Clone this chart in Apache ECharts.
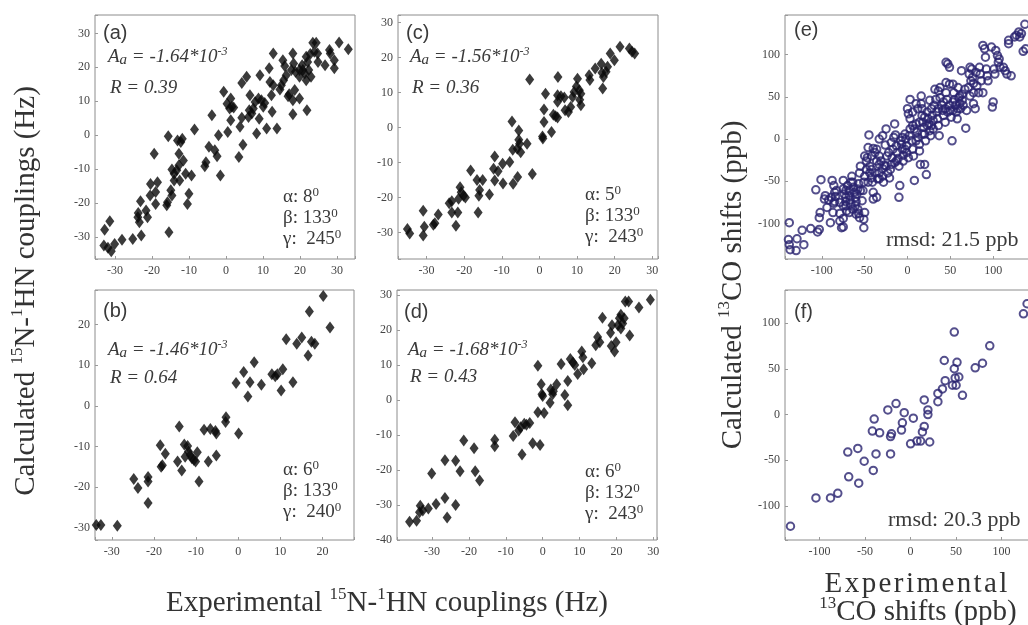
<!DOCTYPE html>
<html>
<head>
<meta charset="utf-8">
<script src="https://cdn.jsdelivr.net/npm/echarts@6/dist/echarts.min.js"></script>
<style>
html,body{margin:0;padding:0;background:#fff;}
#chart{width:1028px;height:625px;}
</style>
</head>
<body>
<div id="chart"></div>
<script>
// ---------- data ----------
const panelA = [[-32.8,-27.8],[-31.4,-25.3],[-33,-32.4],[-31.9,-33.1],[-31,-34.1],[-30.1,-32],[-28.1,-30.7],[-25.2,-30.5],[-22.9,-29.5],[-23.7,-22.9],[-23.8,-24.1],[-23.4,-25.6],[-23.1,-19.4],[-21.6,-22.1],[-21.2,-24.1],[-20.4,-14.3],[-20.5,-17.7],[-19.4,-5.4],[-19,-16.7],[-19,-20.2],[-18.5,-13.8],[-15.8,-19.7],[-16,-20.6],[-15.6,-0.3],[-15.4,-28.5],[-14.9,-16.2],[-14.6,-17.7],[-14.6,-10.1],[-14,-11.3],[-14,-13.3],[-13.3,-10.3],[-13.1,-1.5],[-12.7,-5.4],[-12.7,-8.8],[-12.5,-13.3],[-12.2,-2],[-11.8,-1],[-11.5,-7.4],[-10.9,-11.3],[-10.4,-20.2],[-10,-17.2],[-9.3,-11.8],[-8.5,1.7],[-5.7,-9.1],[-5.4,-7.9],[-4.6,-3.4],[-3.8,5.9],[-3,-4.4],[-2.4,-6.2],[-2,0],[-1.5,-11.8],[-0.6,12.8],[0.3,9.3],[0.5,1],[1,7.9],[1.3,10.8],[1.6,8.4],[1.3,4.4],[2.1,8.2],[3.5,-6.4],[3.8,2.5],[4.3,5.2],[4.3,15.4],[4.6,-2.8],[5.6,17.2],[6.1,5.4],[6.3,7.4],[6.5,11.8],[7,6.4],[7.4,7.9],[7.9,9.8],[8.3,0.5],[8.8,10.8],[9,4.9],[9.2,17.7],[9.6,10.3],[10.1,8.4],[10.5,9.5],[11,2],[11.7,19.7],[11.9,15.7],[12.3,11.8],[12.5,6.9],[12.8,24.1],[12.8,14.7],[13.8,2],[14.6,13.5],[15,14.7],[15.4,22.1],[15.6,16.2],[15.9,20.4],[16.3,17.7],[16.8,11.5],[17.1,12.1],[17.7,19.2],[18.1,6.2],[18.1,24.1],[18.3,21.1],[18.6,13.3],[18.8,18.7],[19.9,17.2],[20.6,20.6],[21.3,18.2],[21.7,23.1],[21.9,7.4],[22.1,21.6],[22.4,19.2],[22.8,23.9],[23,17.2],[23.5,27.2],[23.9,24.6],[24.4,27.2],[24.8,24.1],[24.9,21.6],[26.8,20.6],[28,25.1],[28.2,24.1],[29.3,22.1],[29.3,19.7],[30.6,27.3],[33.1,25.3],[19.9,10.8],[18.1,10.3],[21.7,16.2],[20.8,19.2],[19.9,19.2]];

const panelC = [[-35.1,-29],[-34.5,-30.3],[-30.9,-23.8],[-30.6,-28.4],[-30.9,-30.9],[-28.2,-27.8],[-27.8,-27.4],[-26.9,-24.9],[-24,-21.7],[-23.3,-21.1],[-23.3,-24.3],[-22.2,-28.1],[-21.7,-24.3],[-21.5,-20.4],[-21.1,-17.1],[-20.8,-18.5],[-20.2,-19.5],[-19.7,-20],[-18.3,-12.3],[-16.6,-15],[-16.3,-24.3],[-15.9,-17.9],[-16.1,-19.5],[-15.1,-15],[-13.3,-19.2],[-12.2,-11.8],[-11.9,-8.3],[-11.9,-15.2],[-11,-12.5],[-9.8,-10.4],[-9.7,-16],[-7.9,-9.9],[-7.3,1.7],[-7.1,-6.4],[-7,-16.1],[-5.9,-6.1],[-5.8,-14.2],[-5.5,-0.9],[-5.5,-3.5],[-5.3,-4.7],[-5,-7.1],[-3.3,-4.7],[-2.6,13.7],[-1.9,-13.3],[0.8,-2.6],[0.9,-3.2],[1.2,1.5],[1.2,5.1],[1.6,9.6],[3.2,-1.3],[3.7,3.6],[4.3,3.2],[4.8,2.8],[4.9,14.4],[4.8,9.2],[4.8,7.3],[5.7,8.9],[6.6,8.5],[6.8,4.9],[7.7,4.4],[8.3,5.8],[8.8,8.7],[9.2,10.1],[9.8,11.7],[10.1,13.9],[10.6,10.6],[10.7,7.9],[11,6.3],[11,9.6],[13.2,14.9],[13.4,13.5],[14.8,16.8],[16.4,18.2],[16.6,15.6],[16.8,11.1],[17,14.4],[17.7,15.9],[18.1,17.3],[18.8,21.1],[19.9,19.2],[21.4,23],[23.9,22.5],[24.6,21.6],[25.3,21.1]];

const panelB = [[-33.7,-29.3],[-32.6,-29.3],[-28.7,-29.5],[-24.8,-18],[-23.8,-20.2],[-21.4,-17.5],[-21.4,-18.6],[-21.4,-23.9],[-18.5,-9.7],[-18.3,-15],[-18,-14.6],[-17.3,-11.8],[-14.4,-13.7],[-14,-5.1],[-13.4,-15.9],[-12.8,-9.5],[-12.6,-12.5],[-12,-9.9],[-11.8,-11.2],[-11.4,-12.1],[-11,-12.9],[-10.5,-13.3],[-10.1,-13.7],[-9.7,-11.4],[-9.3,-18.6],[-8.1,-5.9],[-7.1,-13.7],[-6.6,-5.7],[-5.4,-6.2],[-5.2,-6.8],[-5.2,-12.2],[-3,-4],[-2.9,-2.8],[0.1,-6.8],[-0.5,5.6],[1.3,8.3],[2.3,2.3],[2.8,5.8],[3.8,10.7],[5.5,5.2],[8,7.8],[8.8,7.3],[9.3,7.8],[10.2,3.8],[10.6,9],[11.4,16.4],[13,5.8],[13.9,15.3],[15.1,16.8],[16.6,12.4],[16.9,23.2],[17.4,15.8],[18.2,15.3],[20.2,27],[21.8,19.3]];

const panelD = [[-36.1,-34.8],[-34.2,-34.5],[-33.4,-32.1],[-33.2,-30.2],[-32.5,-31.6],[-31,-31],[-30.1,-21],[-28.9,-29.7],[-26.5,-17.2],[-26.5,-28],[-25.9,-33.6],[-23.6,-17.4],[-23.6,-30],[-22.4,-20.4],[-21.4,-11.6],[-18.6,-13.8],[-18.3,-20.4],[-17.1,-23],[-13,-11.4],[-13,-13.2],[-8,-10.3],[-7.5,-6.4],[-6.5,-8.7],[-6,-7.8],[-5.6,-15.6],[-5,-6.8],[-4.4,-7.1],[-3.5,-6.6],[-2.7,-12.4],[-1.3,-3.5],[-1.3,9.8],[-0.7,-12.9],[-0.4,4.5],[-0.2,1.6],[0,1.1],[0.4,-3.7],[2,-0.8],[2.2,3],[2.7,1.6],[2.9,2.5],[3.8,4.5],[5,10.3],[6,1.4],[6.8,-1.5],[6.8,5.4],[7.5,11.7],[8.2,10.7],[8.7,10],[9.5,7.4],[10.6,13.8],[11.1,8.8],[10.9,12.2],[13.3,10.5],[14.4,15.6],[14.9,18],[15.5,16.5],[16.2,23.5],[18.4,19.2],[18.6,15.4],[18.8,21.3],[19.5,13.8],[19.9,16.5],[20.4,21.3],[20.8,23.3],[21.2,20.4],[21.7,21.8],[22.1,23.3],[22.4,28.1],[23.3,28.1],[23.6,18.4],[26.1,26.4],[29.2,28.6],[21.2,24.3]];

const panelE = [[-138,-99],[-139,-119],[-138,-125],[-137,-131],[-130,-132],[-129,-118],[-121,-125],[-123,-108],[-113,-106],[-105,-110],[-103,-107],[-103,-93],[-102,-87],[-101,-48],[-107,-60],[-94,-81],[-92,-72],[-89,-69],[-90,-99],[-87,-87],[-86,-76],[-88,-49],[-86,-55],[-85,-63],[-84,-68],[-85,-74],[-79,-97],[-79,-88],[-77,-105],[-75,-94],[-75,-104],[-75,-49],[-75,-59],[-74,-65],[-72,-69],[-72,-74],[-72,-79],[-71,-85],[-70,-55],[-68,-61],[-68,-67],[-67,-72],[-66,-77],[-65,-44],[-64,-51],[-63,-57],[-62,-63],[-61,-69],[-60,-74],[-59,-65],[-58,-59],[-57,-53],[-56,-40],[-55,-32],[-58,-83],[-57,-88],[-56,-93],[-51,-95],[-51,-105],[-50,-87],[-53,-73],[-52,-61],[-51,-51],[-50,-44],[-48,-36],[-47,-22],[-45,5],[-46,-10],[-44,-32],[-44,-40],[-42,-46],[-41,-51],[-40,-63],[-40,-71],[-36,-69],[-35,-47],[-33,-40],[-33,-30],[-33,-20],[-36,-12],[-40,-11],[-38,-16],[-31,-26],[-29,-35],[-29,-44],[-28,-51],[-27,-31],[-26,-7],[-25,12],[-24,-20],[-23,-40],[-21,-46],[-20,-36],[-19,-30],[-18,-22],[-17,-12],[-16,2],[-15,18],[-14,5],[-13,-8],[-12,-16],[-11,-23],[-10,-32],[-9,-55],[-10,-69],[-8,-2],[-7,-6],[-6,-12],[-5,-19],[-5,-26],[-3,6],[-2,0],[-1,-8],[-1,-16],[1,-22],[0,36],[1,30],[3,24],[3,12],[5,-2],[6,-12],[7,-20],[8,-49],[10,42],[10,18],[11,8],[12,2],[14,-6],[14,-14],[15,-30],[16,51],[16,42],[17,28],[18,20],[19,14],[20,6],[21,-2],[20,-30],[22,-42],[23,32],[24,24],[25,18],[26,10],[27,4],[28,36],[29,28],[30,22],[31,40],[32,59],[33,47],[34,32],[35,24],[36,16],[37,4],[38,49],[38,61],[40,40],[41,34],[42,28],[44,20],[45,91],[45,55],[46,47],[47,89],[49,85],[49,65],[49,40],[50,34],[51,26],[52,-2],[53,65],[54,55],[55,47],[56,40],[57,32],[58,24],[59,61],[60,49],[61,42],[62,36],[63,81],[64,46],[65,40],[67,59],[68,13],[69,34],[71,61],[72,77],[73,85],[74,69],[75,83],[76,73],[77,66],[77,42],[79,36],[80,79],[81,63],[83,55],[84,85],[85,77],[86,69],[88,55],[88,111],[90,107],[91,97],[92,83],[93,75],[94,69],[98,109],[99,38],[100,44],[101,83],[102,77],[103,105],[105,99],[106,91],[107,95],[108,85],[112,85],[114,81],[116,77],[118,117],[118,113],[121,75],[125,121],[127,123],[130,127],[133,125],[135,104],[137,136],[138,107],[131,121],[-68,-87],[-64,-83],[-61,-79],[-60,-89],[-72,-61],[-75,-79],[-79,-75],[-42,-36],[-38,-40],[-36,-26],[-33,-47],[-25,-32],[-22,-16],[-19,-4],[-15,-28],[-13,-26],[-6,2],[-3,-12],[2,4],[6,16],[8,12],[10,-2],[14,20],[17,6],[20,26],[23,16],[28,16],[30,12],[36,36],[42,44],[44,36],[47,32],[53,44],[53,34],[59,36],[61,51],[64,53],[73,51],[77,55],[45,67],[36,57],[26,46],[17,36],[12,36],[6,32],[3,47],[-29,4],[-33,0],[-42,-20],[-48,-26],[-50,-20],[-46,-51],[-55,-61],[-66,-51],[-83,-61],[-96,-67],[-97,-71]];

const panelF = [[-132,-122],[-104,-91],[-88,-91],[-80,-86],[-69,-41],[-68,-68],[-58,-37],[-57,-75],[-51,-51],[-42,-18],[-41,-61],[-40,-5],[-38,-43],[-34,-20],[-25,5],[-22,-24],[-21,-21],[-22,-43],[-16,12],[-10,-17],[-9,-9],[-7,2],[0,-32],[3,-4],[7,-29],[11,-29],[13,-19],[15,-13],[15,16],[19,5],[19,0],[21,-30],[30,14],[30,23],[35,28],[37,59],[38,37],[46,32],[48,90],[48,50],[49,40],[50,32],[51,57],[53,41],[57,21],[71,51],[79,56],[87,75],[124,110],[128,121]];

// annotation texts
const panelNames = ['(a)','(c)','(b)','(d)','(e)','(f)'];
const aaValues = ['-1.64','-1.56','-1.46','-1.68'];
const rValues = ['0.39','0.36','0.64','0.43'];
const alphaValues = ['8','5','6','6'];
const betaValues = ['133','133','133','132'];
const gammaValues = ['245','243','240','243'];
const rmsdValues = ['21.5','20.3'];

// ---------- layout ----------
const SERIF = "'Liberation Serif','Times New Roman',serif";
const SANS = "'Liberation Sans',Arial,sans-serif";
const TXT = '#3a3a3a';

const grids = [
  {left:95, top:15, width:260, height:244},   // a
  {left:398, top:15, width:260, height:244},  // c
  {left:95, top:290, width:259, height:250},  // b
  {left:397, top:290, width:260, height:250}, // d
  {left:785, top:15, width:251, height:244},  // e
  {left:785, top:290, width:253, height:250}  // f
];
const xRanges = [[-35.4,34.9],[-37.6,31.5],[-34,27.5],[-39.5,31],[-143,150],[-138,140]];
const yRanges = [[-36.4,35.4],[-37.6,32.1],[-33,28.5],[-40,31.4],[-142,147],[-137,136]];
const steps = [10,10,10,10,50,50];
const datasets = [panelA, panelC, panelB, panelD, panelE, panelF];

function mkAxis(i, range, isX) {
  const st = steps[i];
  return {
    type:'value', gridIndex:i, min:range[0], max:range[1],
    minInterval:st, maxInterval:st,
    axisLine:{show:false, onZero:false},
    axisTick:{show:true, inside:true, length:3, lineStyle:{color:'#9a9a9a'}},
    splitLine:{show:false},
    axisLabel:{
      fontFamily:SERIF, fontSize:12, color:'#444', margin: isX ? 6 : 5,
      formatter: v => (Math.abs(v % st) < 1e-6 ? String(Math.round(v)) : '')
    }
  };
}

const series = datasets.map((d, i) => {
  const isCO = i >= 4;
  return {
    type:'scatter', xAxisIndex:i, yAxisIndex:i, data:d, silent:true,
    symbol: isCO ? 'circle' : 'diamond',
    symbolSize: isCO ? 7.5 : [9, 12],
    itemStyle: isCO
      ? {color:'rgba(255,255,255,0)', borderColor:'#29236f', borderWidth:2}
      : {color:'#0a0a0a'}
  };
});

// ---------- text annotations ----------
const richIt = {
  it:{fontFamily:SERIF, fontStyle:'italic', fontSize:19, fill:TXT, lineHeight:22},
  sub:{fontFamily:SERIF, fontStyle:'italic', fontSize:15, fill:TXT, lineHeight:12, verticalAlign:'bottom'},
  sup:{fontFamily:SERIF, fontStyle:'italic', fontSize:12, fill:TXT, lineHeight:12, verticalAlign:'top'}
};
const richRm = {
  r:{fontFamily:SERIF, fontSize:19, fill:TXT, lineHeight:22},
  sup:{fontFamily:SERIF, fontSize:13, fill:TXT, lineHeight:13, verticalAlign:'top'}
};
function txt(x, y, text, rich) {
  return {type:'text', x:x, y:y, silent:true,
    style:{text:text, rich:rich, align:'left', textAlign:'left', verticalAlign:'middle', textVerticalAlign:'middle'}};
}
function plain(x, y, text, font, align) {
  return {type:'text', x:x, y:y, silent:true,
    style:{text:text, font:font, fill:TXT, align:align||'left', textAlign:align||'left', verticalAlign:'middle', textVerticalAlign:'middle'}};
}

const labelPos = [[103,33],[406,33],[103,311],[404,312],[794,30],[794,312]];
const aaPos = [[108,57],[410,57],[108,350],[408,350]];
const rPos = [[110,88],[412,88],[110,378],[410,377]];
const angPos = [[283,197],[585,195],[283,470],[585,472]];
const rmsdPos = [[886,240],[888,520]];

const graphics = [];
labelPos.forEach((p, i) => graphics.push(plain(p[0], p[1], panelNames[i], '20px ' + SANS)));
aaPos.forEach((p, i) => graphics.push(txt(p[0], p[1], '{it|A}{sub|a}{it| = ' + aaValues[i] + '*10}{sup|-3}', richIt)));
rPos.forEach((p, i) => graphics.push(txt(p[0], p[1], '{it|R = ' + rValues[i] + '}', richIt)));
angPos.forEach((p, i) => {
  graphics.push(txt(p[0], p[1], '{r|\u03b1: ' + alphaValues[i] + '}{sup|0}', richRm));
  graphics.push(txt(p[0], p[1] + 21, '{r|\u03b2: ' + betaValues[i] + '}{sup|0}', richRm));
  graphics.push(txt(p[0], p[1] + 42, '{r|\u03b3:  ' + gammaValues[i] + '}{sup|0}', richRm));
});
rmsdPos.forEach((p, i) => graphics.push(plain(p[0], p[1], 'rmsd: ' + rmsdValues[i] + ' ppb', '22px ' + SERIF)));

// axis titles
const richTitle = {
  t:{fontFamily:SERIF, fontSize:29, fill:'#333', lineHeight:33},
  s:{fontFamily:SERIF, fontSize:17, fill:'#333', lineHeight:18, verticalAlign:'top'}
};
function titleTxt(x, y, text, rot) {
  return {type:'text', x:x, y:y, rotation:rot||0, silent:true,
    style:{text:text, rich:richTitle, align:'center', textAlign:'center', verticalAlign:'middle', textVerticalAlign:'middle'}};
}
graphics.push(titleTxt(26, 291, '{t|Calculated }{s|15}{t|N-}{s|1}{t|HN couplings (Hz)}', Math.PI/2));
graphics.push(titleTxt(387, 603, '{t|Experimental }{s|15}{t|N-}{s|1}{t|HN couplings (Hz)}'));
graphics.push(titleTxt(733, 285, '{t|Calculated }{s|13}{t|CO shifts (ppb)}', Math.PI/2));
graphics.push(titleTxt(916, 584, '{t|' + 'Experimental'.split('').join('\u200A') + '}'));
graphics.push(titleTxt(918, 612, '{s|13}{t|CO shifts (ppb)}'));

const option = {
  backgroundColor:'#fff',
  animation:false,
  grid: grids.map(g => Object.assign({show:true, borderColor:'#8c8c8c', borderWidth:1, backgroundColor:'rgba(0,0,0,0)', containLabel:false, outerBoundsMode:'none'}, g)),
  xAxis: xRanges.map((r, i) => mkAxis(i, r, true)),
  yAxis: yRanges.map((r, i) => mkAxis(i, r, false)),
  series: series,
  graphic: graphics
};

const chart = echarts.init(document.getElementById('chart'), null, {renderer:'canvas'});
chart.setOption(option);
</script>
</body>
</html>
